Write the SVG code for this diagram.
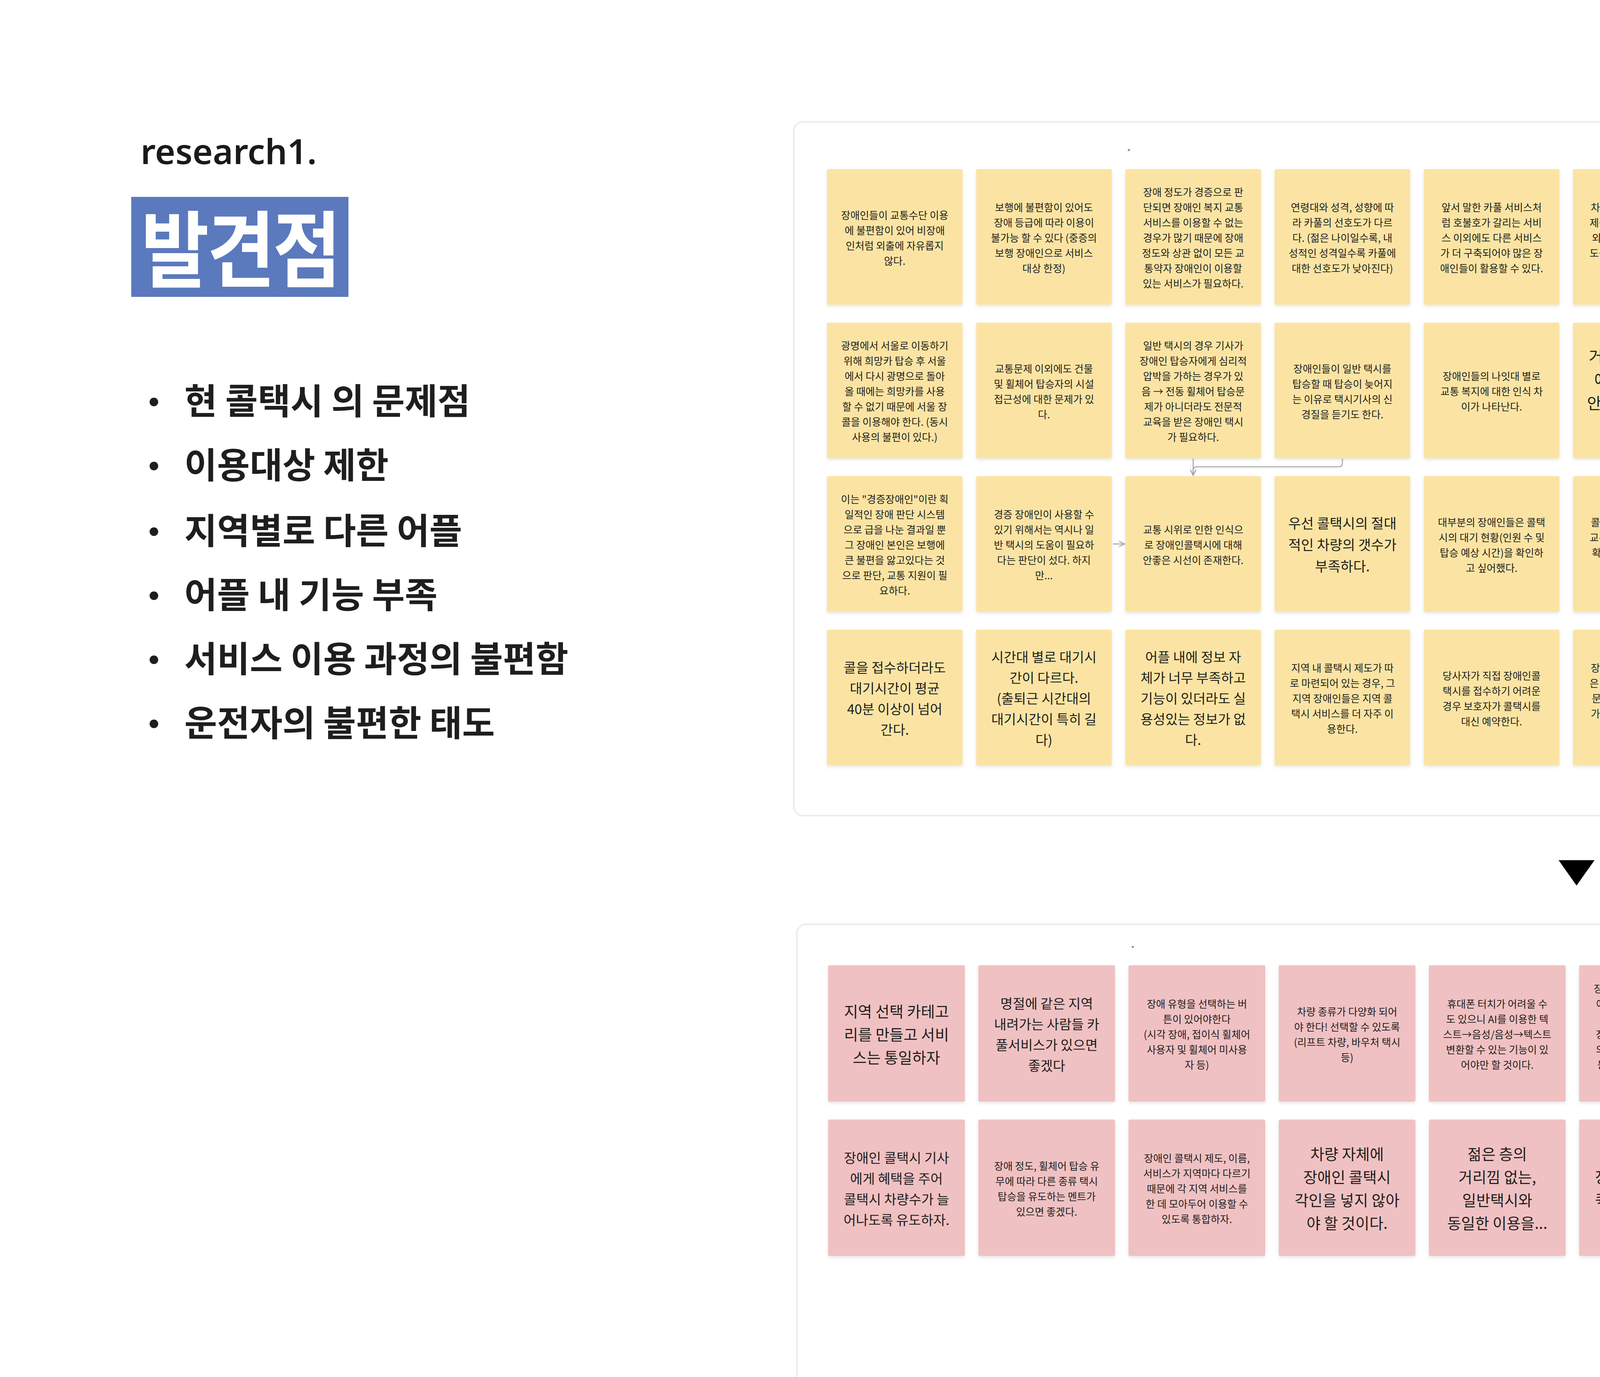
<svg xmlns="http://www.w3.org/2000/svg" width="6267" height="3525" viewBox="0 0 6267 3525">
<defs>
<style>
.bg{fill:#ffffff}
.panel{fill:#ffffff;stroke:#ececec;stroke-width:4}
.ny{fill:#fbe4a3;filter:url(#sh)}
.np{fill:#f0c1c2;filter:url(#sh)}
.t{font-family:"Noto Sans CJK KR","Noto Sans KR","Noto Sans",sans-serif;fill:#1e1e1e;text-anchor:middle;font-weight:400;transform:translate(0px,4px)}
.f24{font-size:26px}.f28{font-size:30px}.f32{font-size:34.5px}.f33{font-size:35.5px}.f36{font-size:39px}.f37{font-size:40px}
.bul{font-family:"Noto Sans CJK KR","Noto Sans",sans-serif;font-size:91px;font-weight:700;fill:#1e1e1e}
.conn{fill:none;stroke:#a3a3a3;stroke-width:2.5}
</style>
<filter id="sh" x="-5%" y="-5%" width="110%" height="115%">
<feDropShadow dx="0" dy="4" stdDeviation="4" flood-color="#000000" flood-opacity="0.10"/>
</filter>
<marker id="ah" viewBox="0 0 10 10" refX="9" refY="5" markerWidth="18" markerHeight="18" markerUnits="userSpaceOnUse" orient="auto">
<path d="M1,1 L9,5 L1,9" fill="none" stroke="#a3a3a3" stroke-width="1.3"/>
</marker>
</defs>
<rect class="bg" x="0" y="0" width="6267" height="3525"/>

<g id="header">
<text x="360" y="420" style="font-family:'Noto Sans','Open Sans',sans-serif;font-size:89px;font-weight:600;fill:#1a1a1a">research1.</text>
<rect x="336" y="504" width="556" height="256" fill="#5b79bd"/>
<text transform="translate(614,718) scale(1,1.12)" x="0" y="0" style="font-family:'Noto Sans CJK KR',sans-serif;font-size:190px;font-weight:700;fill:#ffffff;text-anchor:middle;letter-spacing:-6px">발견점</text>
</g>

<g id="bullets">
<circle cx="394" cy="1029" r="11" fill="#1e1e1e"/><text class="bul" x="472" y="1060">현 콜택시 의 문제점</text>
<circle cx="394" cy="1193" r="11" fill="#1e1e1e"/><text class="bul" x="472" y="1224">이용대상 제한</text>
<circle cx="394" cy="1361" r="11" fill="#1e1e1e"/><text class="bul" x="472" y="1392">지역별로 다른 어플</text>
<circle cx="394" cy="1525" r="11" fill="#1e1e1e"/><text class="bul" x="472" y="1556">어플 내 기능 부족</text>
<circle cx="394" cy="1689" r="11" fill="#1e1e1e"/><text class="bul" x="472" y="1720">서비스 이용 과정의 불편함</text>
<circle cx="394" cy="1853" r="11" fill="#1e1e1e"/><text class="bul" x="472" y="1884">운전자의 불편한 태도</text>
</g>

<g id="panels">
<rect class="panel" x="2032" y="312" width="3988" height="1776" rx="24"/>
<rect class="panel" x="2040" y="2366" width="4004" height="1300" rx="24"/>
<circle cx="2890" cy="384" r="3" fill="#9a9a9a"/>
<circle cx="2900" cy="2424" r="3" fill="#9a9a9a"/>
</g>

<g id="arrow-down">
<polygon points="3990,2202 4082,2202 4036,2267" fill="#000000"/>
</g>

<!-- Yellow row 1 -->
<g id="y1-1"><rect class="ny" x="2117" y="433" width="347" height="347" rx="4"/><text class="t f24" x="2290.5" y="556.6"><tspan x="2290.5">장애인들이 교통수단 이용</tspan><tspan x="2290.5" dy="39">에 불편함이 있어 비장애</tspan><tspan x="2290.5" dy="39">인처럼 외출에 자유롭지</tspan><tspan x="2290.5" dy="39">않다.</tspan></text></g>
<g id="y1-2"><rect class="ny" x="2499" y="433" width="347" height="347" rx="4"/><text class="t f24" x="2672.5" y="537.1"><tspan x="2672.5">보행에 불편함이 있어도</tspan><tspan x="2672.5" dy="39">장애 등급에 따라 이용이</tspan><tspan x="2672.5" dy="39">불가능 할 수 있다 (중증의</tspan><tspan x="2672.5" dy="39">보행 장애인으로 서비스</tspan><tspan x="2672.5" dy="39">대상 한정)</tspan></text></g>
<g id="y1-3"><rect class="ny" x="2881" y="433" width="347" height="347" rx="4"/><text class="t f24" x="3054.5" y="498.1"><tspan x="3054.5">장애 정도가 경증으로 판</tspan><tspan x="3054.5" dy="39">단되면 장애인 복지 교통</tspan><tspan x="3054.5" dy="39">서비스를 이용할 수 없는</tspan><tspan x="3054.5" dy="39">경우가 많기 때문에 장애</tspan><tspan x="3054.5" dy="39">정도와 상관 없이 모든 교</tspan><tspan x="3054.5" dy="39">통약자 장애인이 이용할</tspan><tspan x="3054.5" dy="39">있는 서비스가 필요하다.</tspan></text></g>
<g id="y1-4"><rect class="ny" x="3263" y="433" width="347" height="347" rx="4"/><text class="t f24" x="3436.5" y="537.1"><tspan x="3436.5">연령대와 성격, 성향에 따</tspan><tspan x="3436.5" dy="39">라 카풀의 선호도가 다르</tspan><tspan x="3436.5" dy="39">다. (젊은 나이일수록, 내</tspan><tspan x="3436.5" dy="39">성적인 성격일수록 카풀에</tspan><tspan x="3436.5" dy="39">대한 선호도가 낮아진다)</tspan></text></g>
<g id="y1-5"><rect class="ny" x="3645" y="433" width="347" height="347" rx="4"/><text class="t f24" x="3818.5" y="537.1"><tspan x="3818.5">앞서 말한 카풀 서비스처</tspan><tspan x="3818.5" dy="39">럼 호불호가 갈리는 서비</tspan><tspan x="3818.5" dy="39">스 이외에도 다른 서비스</tspan><tspan x="3818.5" dy="39">가 더 구축되어야 많은 장</tspan><tspan x="3818.5" dy="39">애인들이 활용할 수 있다.</tspan></text></g>
<g id="y1-6"><rect class="ny" x="4027" y="433" width="347" height="347" rx="4"/><text class="t f24" x="4200.5" y="537.1"><tspan x="4200.5">차량 예약이나 탑승 정보</tspan><tspan x="4200.5" dy="39">제공 등 기본적인 기능 이</tspan><tspan x="4200.5" dy="39">외에도 기사와의 소통에</tspan><tspan x="4200.5" dy="39">도움을 줄 수 있는 기능이</tspan><tspan x="4200.5" dy="39">필요하다.</tspan></text></g>
<g id="y1-7"><rect class="ny" x="4409" y="433" width="347" height="347" rx="4"/><text class="t f24" x="4582.5" y="537.1"><tspan x="4582.5">장애인 인터뷰 당시 세 분</tspan><tspan x="4582.5" dy="39">중에 두 분은 인터뷰 내용</tspan><tspan x="4582.5" dy="39">을 녹음하는 것을 꺼려하</tspan><tspan x="4582.5" dy="39">거나 외부에 노출되는 것</tspan><tspan x="4582.5" dy="39">을 피하는 모습을 보였다.</tspan></text></g>
<g id="y1-8"><rect class="ny" x="4791" y="433" width="347" height="347" rx="4"/><text class="t f32" x="4964.5" y="512"><tspan x="4964.5">(광명 희망카의 경</tspan><tspan x="4964.5" dy="53">우) 어플 사용시 대</tspan><tspan x="4964.5" dy="53">기 현황을 알 수 없</tspan><tspan x="4964.5" dy="53">어 마냥 기다려야</tspan><tspan x="4964.5" dy="53">한다.</tspan></text></g>
<g id="y1-9"><rect class="ny" x="5173" y="433" width="347" height="347" rx="4"/><text class="t f32" x="5346.5" y="512"><tspan x="5346.5">지역 간 제도차 때</tspan><tspan x="5346.5" dy="53">문에 희망카 어플과</tspan><tspan x="5346.5" dy="53">서울 장콜 어플을</tspan><tspan x="5346.5" dy="53">동시에 사용해야 해</tspan><tspan x="5346.5" dy="53">서 번거롭다.</tspan></text></g>
<g id="y1-10"><rect class="ny" x="5555" y="433" width="347" height="347" rx="4"/><text class="t f32" x="5728.5" y="565"><tspan x="5728.5">경증 장애인은 콜택</tspan><tspan x="5728.5" dy="53">시를 이용할 수 없</tspan><tspan x="5728.5" dy="53">게 되어있다.</tspan></text></g>

<!-- Yellow row 2 -->
<g id="y2-1"><rect class="ny" x="2117" y="826" width="347" height="347" rx="4"/><text class="t f24" x="2290.5" y="891.1"><tspan x="2290.5">광명에서 서울로 이동하기</tspan><tspan x="2290.5" dy="39">위해 희망카 탑승 후 서울</tspan><tspan x="2290.5" dy="39">에서 다시 광명으로 돌아</tspan><tspan x="2290.5" dy="39">올 때에는 희망카를 사용</tspan><tspan x="2290.5" dy="39">할 수 없기 때문에 서울 장</tspan><tspan x="2290.5" dy="39">콜을 이용해야 한다. (동시</tspan><tspan x="2290.5" dy="39">사용의 불편이 있다.)</tspan></text></g>
<g id="y2-2"><rect class="ny" x="2499" y="826" width="347" height="347" rx="4"/><text class="t f24" x="2672.5" y="949.6"><tspan x="2672.5">교통문제 이외에도 건물</tspan><tspan x="2672.5" dy="39">및 휠체어 탑승자의 시설</tspan><tspan x="2672.5" dy="39">접근성에 대한 문제가 있</tspan><tspan x="2672.5" dy="39">다.</tspan></text></g>
<g id="y2-3"><rect class="ny" x="2881" y="826" width="347" height="347" rx="4"/><text class="t f24" x="3054.5" y="891.1"><tspan x="3054.5">일반 택시의 경우 기사가</tspan><tspan x="3054.5" dy="39">장애인 탑승자에게 심리적</tspan><tspan x="3054.5" dy="39">압박을 가하는 경우가 있</tspan><tspan x="3054.5" dy="39">음 → 전동 휠체어 탑승문</tspan><tspan x="3054.5" dy="39">제가 아니더라도 전문적</tspan><tspan x="3054.5" dy="39">교육을 받은 장애인 택시</tspan><tspan x="3054.5" dy="39">가 필요하다.</tspan></text></g>
<g id="y2-4"><rect class="ny" x="3263" y="826" width="347" height="347" rx="4"/><text class="t f24" x="3436.5" y="949.6"><tspan x="3436.5">장애인들이 일반 택시를</tspan><tspan x="3436.5" dy="39">탑승할 때 탑승이 늦어지</tspan><tspan x="3436.5" dy="39">는 이유로 택시기사의 신</tspan><tspan x="3436.5" dy="39">경질을 듣기도 한다.</tspan></text></g>
<g id="y2-5"><rect class="ny" x="3645" y="826" width="347" height="347" rx="4"/><text class="t f24" x="3818.5" y="969.1"><tspan x="3818.5">장애인들의 나잇대 별로</tspan><tspan x="3818.5" dy="39">교통 복지에 대한 인식 차</tspan><tspan x="3818.5" dy="39">이가 나타난다.</tspan></text></g>
<g id="y2-6"><rect class="ny" x="4027" y="826" width="347" height="347" rx="4"/><text class="t f37" x="4200.5" y="922.8"><tspan x="4200.5">거동이 불편해서</tspan><tspan x="4200.5" dy="60">애초에 밖에 잘</tspan><tspan x="4200.5" dy="60">안 나가는 사람들</tspan><tspan x="4200.5" dy="60">이 많다.</tspan></text></g>
<g id="y2-7"><rect class="ny" x="4409" y="826" width="347" height="347" rx="4"/><text class="t f36" x="4582.5" y="924"><tspan x="4582.5">복지관으로의</tspan><tspan x="4582.5" dy="59">이동이 대부분 장</tspan><tspan x="4582.5" dy="59">애인들의 공통 스</tspan><tspan x="4582.5" dy="59">케줄이다.</tspan></text></g>
<g id="y2-8"><rect class="ny" x="4791" y="826" width="347" height="347" rx="4"/><text class="t f24" x="4964.5" y="969.1"><tspan x="4964.5">지역별로 운영 시스템이나</tspan><tspan x="4964.5" dy="39">사용하는 앱이 달라 통일</tspan><tspan x="4964.5" dy="39">할 필요성이 있다.</tspan></text></g>
<g id="y2-9"><rect class="ny" x="5173" y="826" width="347" height="347" rx="4"/><text class="t f24" x="5346.5" y="949.6"><tspan x="5346.5">이동에 있어서 보호자의</tspan><tspan x="5346.5" dy="39">도움이 필요해 보호자가</tspan><tspan x="5346.5" dy="39">무조건 동행해야하는 장애</tspan><tspan x="5346.5" dy="39">인이 대다수이다.</tspan></text></g>
<g id="y2-10"><rect class="ny" x="5555" y="826" width="347" height="347" rx="4"/><text class="t f24" x="5728.5" y="910.6"><tspan x="5728.5">말이 경증 장애인이지, 우</tspan><tspan x="5728.5" dy="39">리가 인터뷰한 3인터뷰이</tspan><tspan x="5728.5" dy="39">는 보행이 꽤 불편할 수준</tspan><tspan x="5728.5" dy="39">의 장애인데도 불구하고</tspan><tspan x="5728.5" dy="39">경증 장애인으로 분류가</tspan><tspan x="5728.5" dy="39">되어있었다.</tspan></text></g>

<!-- Yellow row 3 -->
<g id="y3-1"><rect class="ny" x="2117" y="1219" width="347" height="347" rx="4"/><text class="t f24" x="2290.5" y="1284.1"><tspan x="2290.5">이는 "경증장애인"이란 획</tspan><tspan x="2290.5" dy="39">일적인 장애 판단 시스템</tspan><tspan x="2290.5" dy="39">으로 급을 나눈 결과일 뿐</tspan><tspan x="2290.5" dy="39">그 장애인 본인은 보행에</tspan><tspan x="2290.5" dy="39">큰 불편을 앓고있다는 것</tspan><tspan x="2290.5" dy="39">으로 판단, 교통 지원이 필</tspan><tspan x="2290.5" dy="39">요하다.</tspan></text></g>
<g id="y3-2"><rect class="ny" x="2499" y="1219" width="347" height="347" rx="4"/><text class="t f24" x="2672.5" y="1323.1"><tspan x="2672.5">경증 장애인이 사용할 수</tspan><tspan x="2672.5" dy="39">있기 위해서는 역시나 일</tspan><tspan x="2672.5" dy="39">반 택시의 도움이 필요하</tspan><tspan x="2672.5" dy="39">다는 판단이 섰다. 하지</tspan><tspan x="2672.5" dy="39">만...</tspan></text></g>
<g id="y3-3"><rect class="ny" x="2881" y="1219" width="347" height="347" rx="4"/><text class="t f24" x="3054.5" y="1362.1"><tspan x="3054.5">교통 시위로 인한 인식으</tspan><tspan x="3054.5" dy="39">로 장애인콜택시에 대해</tspan><tspan x="3054.5" dy="39">안좋은 시선이 존재한다.</tspan></text></g>
<g id="y3-4"><rect class="ny" x="3263" y="1219" width="347" height="347" rx="4"/><text class="t f33" x="3436.5" y="1349.4"><tspan x="3436.5">우선 콜택시의 절대</tspan><tspan x="3436.5" dy="55">적인 차량의 갯수가</tspan><tspan x="3436.5" dy="55">부족하다.</tspan></text></g>
<g id="y3-5"><rect class="ny" x="3645" y="1219" width="347" height="347" rx="4"/><text class="t f24" x="3818.5" y="1342.6"><tspan x="3818.5">대부분의 장애인들은 콜택</tspan><tspan x="3818.5" dy="39">시의 대기 현황(인원 수 및</tspan><tspan x="3818.5" dy="39">탑승 예상 시간)을 확인하</tspan><tspan x="3818.5" dy="39">고 싶어했다.</tspan></text></g>
<g id="y3-6"><rect class="ny" x="4027" y="1219" width="347" height="347" rx="4"/><text class="t f24" x="4200.5" y="1342.6"><tspan x="4200.5">콜택시 어플 내에서 현재</tspan><tspan x="4200.5" dy="39">교통 상황 등 상세 정보를</tspan><tspan x="4200.5" dy="39">확인하고 싶지만 기능이</tspan><tspan x="4200.5" dy="39">존재하지 않는다.</tspan></text></g>
<g id="y3-7"><rect class="ny" x="4409" y="1219" width="347" height="347" rx="4"/><text class="t f32" x="4582.5" y="1324.5"><tspan x="4582.5">리프트 차량은 수요</tspan><tspan x="4582.5" dy="53">에 비해 공급이 부</tspan><tspan x="4582.5" dy="53">족해서 예약이 필수</tspan><tspan x="4582.5" dy="53">적이다.</tspan></text></g>
<g id="y3-8"><rect class="ny" x="4791" y="1219" width="347" height="347" rx="4"/><text class="t f36" x="4964.5" y="1317"><tspan x="4964.5">무조건</tspan><tspan x="4964.5" dy="59">차량 개체수가 확</tspan><tspan x="4964.5" dy="59">대되는 방향이 좋</tspan><tspan x="4964.5" dy="59">음</tspan></text></g>
<g id="y3-9"><rect class="ny" x="5173" y="1219" width="347" height="347" rx="4"/><text class="t f24" x="5346.5" y="1342.6"><tspan x="5346.5">보통 지체장애인은 휠체어</tspan><tspan x="5346.5" dy="39">를 사용하기 때문에 단체</tspan><tspan x="5346.5" dy="39">이동시 리프트카가 필수적</tspan><tspan x="5346.5" dy="39">이다.</tspan></text></g>
<g id="y3-10"><rect class="ny" x="5555" y="1219" width="347" height="347" rx="4"/><text class="t f24" x="5728.5" y="1342.6"><tspan x="5728.5">어플 내 대기 정보란에 차</tspan><tspan x="5728.5" dy="39">량 배차 평균시간만 뜨고</tspan><tspan x="5728.5" dy="39">진짜 도움이 되는 실시간</tspan><tspan x="5728.5" dy="39">현황은 뜨지 않는다.</tspan></text></g>

<!-- Yellow row 4 -->
<g id="y4-1"><rect class="ny" x="2117" y="1612" width="347" height="347" rx="4"/><text class="t f32" x="2290.5" y="1717.5"><tspan x="2290.5">콜을 접수하더라도</tspan><tspan x="2290.5" dy="53">대기시간이 평균</tspan><tspan x="2290.5" dy="53">40분 이상이 넘어</tspan><tspan x="2290.5" dy="53">간다.</tspan></text></g>
<g id="y4-2"><rect class="ny" x="2499" y="1612" width="347" height="347" rx="4"/><text class="t f32" x="2672.5" y="1691"><tspan x="2672.5">시간대 별로 대기시</tspan><tspan x="2672.5" dy="53">간이 다르다.</tspan><tspan x="2672.5" dy="53">(출퇴근 시간대의</tspan><tspan x="2672.5" dy="53">대기시간이 특히 길</tspan><tspan x="2672.5" dy="53">다)</tspan></text></g>
<g id="y4-3"><rect class="ny" x="2881" y="1612" width="347" height="347" rx="4"/><text class="t f32" x="3054.5" y="1691"><tspan x="3054.5">어플 내에 정보 자</tspan><tspan x="3054.5" dy="53">체가 너무 부족하고</tspan><tspan x="3054.5" dy="53">기능이 있더라도 실</tspan><tspan x="3054.5" dy="53">용성있는 정보가 없</tspan><tspan x="3054.5" dy="53">다.</tspan></text></g>
<g id="y4-4"><rect class="ny" x="3263" y="1612" width="347" height="347" rx="4"/><text class="t f24" x="3436.5" y="1716.1"><tspan x="3436.5">지역 내 콜택시 제도가 따</tspan><tspan x="3436.5" dy="39">로 마련되어 있는 경우, 그</tspan><tspan x="3436.5" dy="39">지역 장애인들은 지역 콜</tspan><tspan x="3436.5" dy="39">택시 서비스를 더 자주 이</tspan><tspan x="3436.5" dy="39">용한다.</tspan></text></g>
<g id="y4-5"><rect class="ny" x="3645" y="1612" width="347" height="347" rx="4"/><text class="t f24" x="3818.5" y="1735.6"><tspan x="3818.5">당사자가 직접 장애인콜</tspan><tspan x="3818.5" dy="39">택시를 접수하기 어려운</tspan><tspan x="3818.5" dy="39">경우 보호자가 콜택시를</tspan><tspan x="3818.5" dy="39">대신 예약한다.</tspan></text></g>
<g id="y4-6"><rect class="ny" x="4027" y="1612" width="347" height="347" rx="4"/><text class="t f24" x="4200.5" y="1716.1"><tspan x="4200.5">장애인 콜택시 어플 가입</tspan><tspan x="4200.5" dy="39">은 인증 후 이루어지기 때</tspan><tspan x="4200.5" dy="39">문에 제도적으로 장애를</tspan><tspan x="4200.5" dy="39">가지고 있지 않은 사람은</tspan><tspan x="4200.5" dy="39">가입할 수 없다.</tspan></text></g>
<g id="y4-7"><rect class="ny" x="4409" y="1612" width="347" height="347" rx="4"/><text class="t f24" x="4582.5" y="1755.1"><tspan x="4582.5">광명 희망카 어플의 경우</tspan><tspan x="4582.5" dy="39">서울 장콜 어플보다 대기</tspan><tspan x="4582.5" dy="39">정보가 적다.</tspan></text></g>

<!-- Pink row 1 -->
<g id="p1-1"><rect class="np" x="2120" y="2471" width="350" height="349" rx="4"/><text class="t f36" x="2295" y="2599.5"><tspan x="2295">지역 선택 카테고</tspan><tspan x="2295" dy="59">리를 만들고 서비</tspan><tspan x="2295" dy="59">스는 통일하자</tspan></text></g>
<g id="p1-2"><rect class="np" x="2504.5" y="2471" width="350" height="349" rx="4"/><text class="t f32" x="2679.5" y="2577.5"><tspan x="2679.5">명절에 같은 지역</tspan><tspan x="2679.5" dy="53">내려가는 사람들 카</tspan><tspan x="2679.5" dy="53">풀서비스가 있으면</tspan><tspan x="2679.5" dy="53">좋겠다</tspan></text></g>
<g id="p1-3"><rect class="np" x="2889" y="2471" width="350" height="349" rx="4"/><text class="t f24" x="3064" y="2576.1"><tspan x="3064">장애 유형을 선택하는 버</tspan><tspan x="3064" dy="39">튼이 있어야한다</tspan><tspan x="3064" dy="39">(시각 장애, 접이식 휠체어</tspan><tspan x="3064" dy="39">사용자 및 휠체어 미사용</tspan><tspan x="3064" dy="39">자 등)</tspan></text></g>
<g id="p1-4"><rect class="np" x="3273.5" y="2471" width="350" height="349" rx="4"/><text class="t f24" x="3448.5" y="2595.6"><tspan x="3448.5">차량 종류가 다양화 되어</tspan><tspan x="3448.5" dy="39">야 한다! 선택할 수 있도록</tspan><tspan x="3448.5" dy="39">(리프트 차량, 바우처 택시</tspan><tspan x="3448.5" dy="39">등)</tspan></text></g>
<g id="p1-5"><rect class="np" x="3658" y="2471" width="350" height="349" rx="4"/><text class="t f24" x="3833" y="2576.1"><tspan x="3833">휴대폰 터치가 어려울 수</tspan><tspan x="3833" dy="39">도 있으니 AI를 이용한 텍</tspan><tspan x="3833" dy="39">스트→음성/음성→텍스트</tspan><tspan x="3833" dy="39">변환할 수 있는 기능이 있</tspan><tspan x="3833" dy="39">어야만 할 것이다.</tspan></text></g>
<g id="p1-6"><rect class="np" x="4042.5" y="2471" width="350" height="349" rx="4"/><text class="t f24" x="4217.5" y="2537.1"><tspan x="4217.5">장애인들이 사전에 목적지</tspan><tspan x="4217.5" dy="39">에 대한 필요한 정보를 확</tspan><tspan x="4217.5" dy="39">인할 수 있도록</tspan><tspan x="4217.5" dy="39">장소의 접근성 정보, 시설</tspan><tspan x="4217.5" dy="39">의 위치, 편의시설의 유무</tspan><tspan x="4217.5" dy="39">등의 정보 제공을 해야만</tspan><tspan x="4217.5" dy="39">한다.</tspan></text></g>
<g id="p1-7"><rect class="np" x="4427" y="2471" width="350" height="349" rx="4"/><text class="t f32" x="4602" y="2551"><tspan x="4602">안전을 위해 보호자</tspan><tspan x="4602" dy="53">와 피보호자 간 위</tspan><tspan x="4602" dy="53">치 등 정보 공유 서</tspan><tspan x="4602" dy="53">비스가 필요할것이</tspan><tspan x="4602" dy="53">다.</tspan></text></g>
<g id="p1-8"><rect class="np" x="4811.5" y="2471" width="350" height="349" rx="4"/><text class="t f36" x="4986.5" y="2570"><tspan x="4986.5">무엇보다 우선적</tspan><tspan x="4986.5" dy="59">으로 차량이 늘어</tspan><tspan x="4986.5" dy="59">나는 방향을 추구</tspan><tspan x="4986.5" dy="59">해야 한다.</tspan></text></g>
<g id="p1-9"><rect class="np" x="5196" y="2471" width="350" height="349" rx="4"/><text class="t f36" x="5371" y="2570"><tspan x="5371">운영시간 외(24</tspan><tspan x="5371" dy="59">시간 운영이긴 하</tspan><tspan x="5371" dy="59">지만 콜택시가 잡</tspan><tspan x="5371" dy="59">히지 않는 시간...</tspan></text></g>
<g id="p1-10"><rect class="np" x="5580.5" y="2471" width="350" height="349" rx="4"/><text class="t f24" x="5755.5" y="2556.6"><tspan x="5755.5">휠체어 칸은 어차피 맨 뒤</tspan><tspan x="5755.5" dy="39">에 있기 때문에 휠체어 예</tspan><tspan x="5755.5" dy="39">약이나 콜이 없을 경우엔</tspan><tspan x="5755.5" dy="39">단체 일반인 용으로 사용</tspan><tspan x="5755.5" dy="39">하자. 경제적으로도 부담</tspan><tspan x="5755.5" dy="39">이 없음.</tspan></text></g>

<!-- Pink row 2 -->
<g id="p2-1"><rect class="np" x="2120" y="2866" width="350" height="349" rx="4"/><text class="t f32" x="2295" y="2972.5"><tspan x="2295">장애인 콜택시 기사</tspan><tspan x="2295" dy="53">에게 혜택을 주어</tspan><tspan x="2295" dy="53">콜택시 차량수가 늘</tspan><tspan x="2295" dy="53">어나도록 유도하자.</tspan></text></g>
<g id="p2-2"><rect class="np" x="2504.5" y="2866" width="350" height="349" rx="4"/><text class="t f24" x="2679.5" y="2990.6"><tspan x="2679.5">장애 정도, 휠체어 탑승 유</tspan><tspan x="2679.5" dy="39">무에 따라 다른 종류 택시</tspan><tspan x="2679.5" dy="39">탑승을 유도하는 멘트가</tspan><tspan x="2679.5" dy="39">있으면 좋겠다.</tspan></text></g>
<g id="p2-3"><rect class="np" x="2889" y="2866" width="350" height="349" rx="4"/><text class="t f24" x="3064" y="2971.1"><tspan x="3064">장애인 콜택시 제도, 이름,</tspan><tspan x="3064" dy="39">서비스가 지역마다 다르기</tspan><tspan x="3064" dy="39">때문에 각 지역 서비스를</tspan><tspan x="3064" dy="39">한 데 모아두어 이용할 수</tspan><tspan x="3064" dy="39">있도록 통합하자.</tspan></text></g>
<g id="p2-4"><rect class="np" x="3273.5" y="2866" width="350" height="349" rx="4"/><text class="t f36" x="3448.5" y="2965"><tspan x="3448.5">차량 자체에</tspan><tspan x="3448.5" dy="59">장애인 콜택시</tspan><tspan x="3448.5" dy="59">각인을 넣지 않아</tspan><tspan x="3448.5" dy="59">야 할 것이다.</tspan></text></g>
<g id="p2-5"><rect class="np" x="3658" y="2866" width="350" height="349" rx="4"/><text class="t f36" x="3833" y="2965"><tspan x="3833">젊은 층의</tspan><tspan x="3833" dy="59">거리낌 없는,</tspan><tspan x="3833" dy="59">일반택시와</tspan><tspan x="3833" dy="59">동일한 이용을...</tspan></text></g>
<g id="p2-6"><rect class="np" x="4042.5" y="2866" width="350" height="349" rx="4"/><text class="t f36" x="4217.5" y="2965"><tspan x="4217.5">어플 내에</tspan><tspan x="4217.5" dy="59">장애 종류에 대한</tspan><tspan x="4217.5" dy="59">퀵 버튼이 존재해</tspan><tspan x="4217.5" dy="59">야 한다.</tspan></text></g>
<g id="p2-7"><rect class="np" x="4427" y="2866" width="350" height="349" rx="4"/><text class="t f32" x="4602" y="2946"><tspan x="4602">이동수단을 운행할</tspan><tspan x="4602" dy="53">수 있는 장애인들에</tspan><tspan x="4602" dy="53">게 기회를 주기 위</tspan><tspan x="4602" dy="53">해 취업 버튼도 만</tspan><tspan x="4602" dy="53">들면 어떨까?</tspan></text></g>
<g id="p2-8"><rect class="np" x="4811.5" y="2866" width="350" height="349" rx="4"/><text class="t f32" x="4986.5" y="2972.5"><tspan x="4986.5">지역별,장애유형별,</tspan><tspan x="4986.5" dy="53">차량별,현재위치별,</tspan><tspan x="4986.5" dy="53">과 같은 카테고리</tspan><tspan x="4986.5" dy="53">세분화가 필요하다</tspan></text></g>
<g id="p2-9"><rect class="np" x="5196" y="2866" width="350" height="349" rx="4"/><text class="t f32" x="5371" y="2946"><tspan x="5371">대기자가</tspan><tspan x="5371" dy="53">대기시간 현황을 알</tspan><tspan x="5371" dy="53">수있도록 정확하게</tspan><tspan x="5371" dy="53">알려주는 통일된 정</tspan><tspan x="5371" dy="53">보창이 필요하다.</tspan></text></g>
<g id="p2-10"><rect class="np" x="5580.5" y="2866" width="350" height="349" rx="4"/><text class="t f28" x="5755.5" y="2958.5"><tspan x="5755.5">콜택시 사용자 바탕의</tspan><tspan x="5755.5" dy="46">데이터수집으로 시간</tspan><tspan x="5755.5" dy="46">대별 혼잡한 시간대인</tspan><tspan x="5755.5" dy="46">지 상황을 알려줄 필요</tspan><tspan x="5755.5" dy="46">성이 있다.</tspan></text></g>

<g id="connectors">
<path class="conn" d="M3054.5,1174 V1217" marker-end="url(#ah)"/>
<path class="conn" d="M3436.5,1174 V1186 Q3436.5,1195 3427.5,1195 H3064 Q3054.5,1195 3054.5,1204.5 V1217" marker-end="url(#ah)"/>
<path class="conn" d="M2849,1392.5 H2879" marker-end="url(#ah)"/>
</g>
</svg>
